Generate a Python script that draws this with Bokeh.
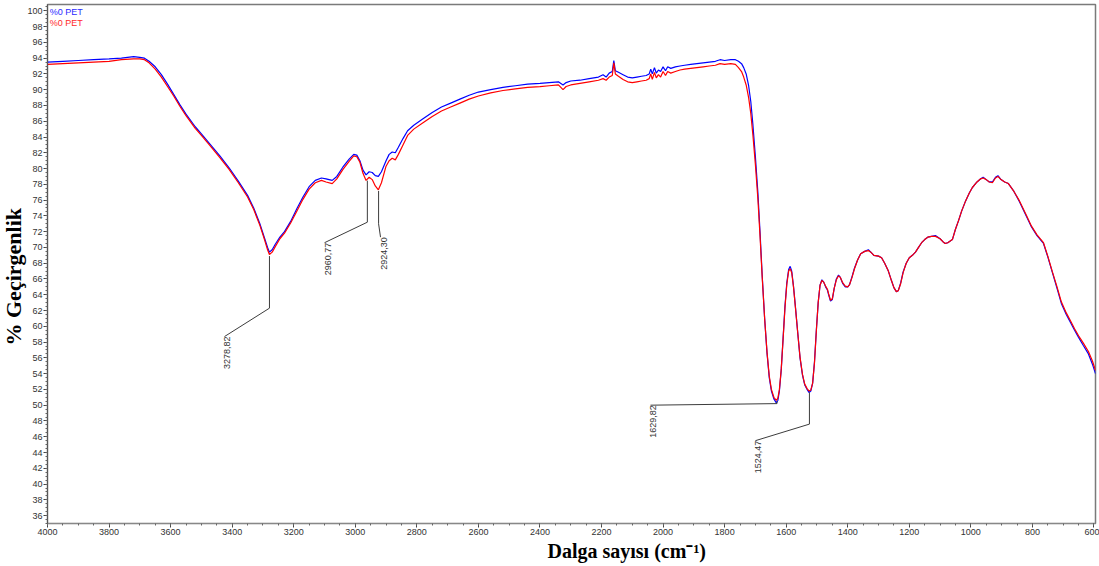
import numpy as np
from bokeh.plotting import figure
from bokeh.models import Range1d, SingleIntervalTicker, Label, Title
from bokeh.embed import file_html
from bokeh.resources import INLINE

# FTIR spectrum: wavenumber (cm^-1) and % transmittance for the two runs
WAVENUMBER = [
    4000, 3950, 3900, 3850, 3800, 3760, 3720, 3700, 3685,
    3670, 3650, 3630, 3610, 3590, 3570, 3550, 3520, 3500, 3470, 3440, 3410, 3380, 3350, 3330, 3310, 3295, 3285, 3279,
    3270, 3260, 3245, 3230, 3210, 3190, 3170, 3150, 3130, 3110, 3095, 3075, 3060, 3040, 3020, 3005, 2995, 2985, 2975, 2965, 2955, 2945, 2935, 2925,
    2915, 2900, 2890, 2880, 2870, 2860, 2845, 2830, 2810, 2780, 2750, 2720, 2690, 2660, 2630, 2600, 2560, 2520, 2480, 2440, 2400, 2370, 2340,
    2325, 2315, 2300, 2270, 2240, 2210, 2195, 2185, 2175, 2165, 2160, 2155, 2145, 2130, 2115, 2100, 2085, 2070, 2055, 2045, 2040, 2035, 2028, 2022, 2015, 2008, 2000,
    1992, 1985, 1975, 1960, 1945, 1930, 1910, 1890, 1870, 1850, 1830, 1815, 1800, 1780, 1765, 1755, 1745, 1738, 1730, 1722, 1715, 1708, 1700, 1692, 1685,
    1678, 1670, 1662, 1655, 1648, 1640, 1632, 1627, 1622, 1616, 1610, 1604, 1598, 1592, 1587, 1582, 1576, 1570, 1562, 1555, 1547, 1540, 1532, 1526, 1520,
    1514, 1508, 1502, 1496, 1490, 1484, 1478, 1472, 1466, 1462, 1456, 1450, 1444, 1437, 1430, 1424, 1416, 1408, 1400, 1394, 1386, 1378, 1368, 1358, 1345,
    1333, 1325, 1315, 1300, 1290, 1280, 1268, 1258, 1250, 1242, 1236, 1228, 1220, 1210, 1200,
    1190, 1180, 1170, 1160, 1150, 1140, 1128, 1115, 1100, 1090, 1083, 1075, 1060, 1050, 1040, 1030, 1017, 1005, 995, 980, 968, 960, 950, 940,
    930, 920, 912, 902, 890, 878, 860, 842, 820, 803, 785, 764, 750, 735, 720, 706, 690, 675, 663, 650, 635, 618, 605, 595,
]

PET_BLUE = [
    93.5, 93.6, 93.7, 93.8, 93.9, 94.0, 94.2, 94.1, 94.0,
    93.6, 92.9, 91.9, 90.7, 89.4, 88.1, 86.9, 85.3, 84.4, 83.0, 81.6, 80.1, 78.4, 76.6, 75.0, 73.0, 71.2, 70.0, 69.4,
    69.7, 70.4, 71.3, 72.0, 73.3, 74.9, 76.4, 77.7, 78.5, 78.8, 78.7, 78.5, 79.0, 80.2, 81.2, 81.8, 81.7, 81.0, 79.8, 79.2, 79.6, 79.5, 79.1, 79.0,
    79.6, 81.0, 81.8, 82.1, 82.0, 82.7, 83.8, 84.8, 85.5, 86.3, 87.1, 87.8, 88.3, 88.8, 89.3, 89.7, 90.0, 90.3, 90.5, 90.7, 90.8, 90.9, 91.0,
    90.6, 90.9, 91.1, 91.2, 91.4, 91.6, 91.9, 91.6, 92.1, 92.3, 93.7, 92.4, 92.2, 91.9, 91.6, 91.5, 91.6, 91.7, 91.8, 92.0, 92.6, 92.0, 92.8, 92.1, 92.5, 92.3, 92.9,
    92.4, 92.9, 92.7, 92.9, 93.0, 93.1, 93.2, 93.3, 93.4, 93.5, 93.6, 93.8, 93.7, 93.8, 93.8, 93.6, 93.3, 92.8, 92.0, 90.5, 88.5, 85.5, 81.5, 77.0, 72.0,
    66.5, 61.0, 56.5, 53.5, 51.8, 50.8, 50.3, 50.6, 51.8, 54.5, 58.5, 62.5, 65.5, 67.2, 67.6, 67.0, 65.0, 62.5, 59.0, 56.0, 53.8, 52.6, 52.0, 51.6, 51.8,
    52.8, 55.5, 59.5, 63.0, 65.2, 65.9, 65.6, 65.0, 64.6, 64.0, 63.2, 63.4, 64.8, 66.0, 66.5, 66.2, 65.4, 65.0, 65.0, 65.3, 66.3, 67.4, 68.4, 69.2, 69.5,
    69.7, 69.4, 69.0, 68.9, 68.7, 68.0, 67.0, 65.8, 64.9, 64.4, 64.5, 65.5, 66.9, 68.0, 68.7,
    69.0, 69.4, 70.0, 70.6, 71.0, 71.3, 71.4, 71.5, 71.1, 70.7, 70.5, 70.6, 71.0, 72.3, 73.4, 74.6, 75.9, 76.9, 77.6, 78.3, 78.7, 78.9, 78.6, 78.3,
    78.3, 78.9, 79.1, 78.6, 78.3, 78.1, 77.1, 75.8, 74.0, 72.6, 71.5, 70.5, 68.8, 66.8, 64.8, 62.9, 61.5, 60.4, 59.5, 58.6, 57.6, 56.5, 55.2, 54.0,
]

PET_RED = [
    93.2, 93.3, 93.4, 93.5, 93.6, 93.8, 93.9, 93.9, 93.8,
    93.4, 92.6, 91.6, 90.4, 89.2, 87.9, 86.7, 85.1, 84.2, 82.8, 81.4, 79.9, 78.2, 76.4, 74.8, 72.8, 71.0, 69.7, 69.1,
    69.4, 70.1, 71.1, 71.8, 73.1, 74.6, 76.1, 77.4, 78.2, 78.5, 78.3, 78.1, 78.7, 79.9, 80.9, 81.6, 81.5, 80.8, 79.4, 78.5, 78.9, 78.6, 77.8, 77.3,
    78.2, 80.3, 81.0, 81.3, 81.1, 81.8, 83.0, 84.2, 85.0, 85.8, 86.6, 87.3, 87.8, 88.3, 88.8, 89.2, 89.6, 89.9, 90.1, 90.3, 90.4, 90.5, 90.6,
    90.0, 90.4, 90.6, 90.8, 91.0, 91.2, 91.4, 91.2, 91.6, 91.8, 93.4, 92.0, 91.7, 91.3, 91.0, 90.9, 91.0, 91.1, 91.2, 91.4, 92.0, 91.3, 92.2, 91.5, 91.9, 91.6, 92.3,
    91.8, 92.3, 92.1, 92.3, 92.5, 92.6, 92.7, 92.8, 92.9, 93.0, 93.1, 93.3, 93.2, 93.3, 93.2, 92.8, 92.3, 91.6, 90.6, 89.0, 87.0, 84.2, 80.5, 76.2, 71.5,
    66.3, 61.0, 56.6, 53.7, 52.0, 51.0, 50.6, 50.9, 52.0, 54.6, 58.4, 62.3, 65.3, 67.0, 67.3, 66.8, 64.9, 62.4, 59.0, 56.1, 53.9, 52.7, 52.1, 51.8, 51.9,
    52.8, 55.4, 59.4, 63.0, 65.2, 65.8, 65.6, 65.1, 64.7, 64.1, 63.3, 63.5, 64.8, 65.9, 66.4, 66.2, 65.5, 65.1, 65.0, 65.3, 66.2, 67.3, 68.4, 69.2, 69.5,
    69.6, 69.4, 69.0, 68.9, 68.7, 68.0, 67.0, 65.8, 64.9, 64.4, 64.5, 65.4, 66.8, 68.0, 68.7,
    69.0, 69.4, 70.0, 70.6, 71.0, 71.3, 71.4, 71.4, 71.1, 70.7, 70.5, 70.6, 71.0, 72.3, 73.4, 74.6, 75.9, 76.9, 77.6, 78.3, 78.7, 78.8, 78.6, 78.3,
    78.2, 78.8, 79.0, 78.6, 78.3, 78.1, 77.1, 75.9, 74.1, 72.7, 71.6, 70.6, 68.9, 66.9, 65.0, 63.1, 61.7, 60.6, 59.7, 58.8, 57.9, 56.8, 55.6, 54.4,
]

SERIES_NAMES = ["%0 PET", "%0 PET"]

# Marked absorption bands
PEAK_WN = [3278.82, 2960.77, 2924.30, 1629.82, 1524.47]
PEAK_TEXT = ["3278,82", "2960,77", "2924,30", "1629,82", "1524,47"]

# Leader-line routing for each band label (knee height, then label end point)
LEADER_KNEE_T = [62.3, 73.2, 73.0, 50.2, 47.6]
LEADER_END_WN = [3425, 3100, 2918, 2041, 1700]
LEADER_END_T = [58.7, 70.6, 71.3, 50.0, 45.5]

assert len(WAVENUMBER) == len(PET_BLUE) == len(PET_RED)

wn = np.array(WAVENUMBER, dtype=float)
blue = np.array(PET_BLUE, dtype=float)
red = np.array(PET_RED, dtype=float)

p = figure(
    width=1099, height=566,
    output_backend="svg", toolbar_location=None,
    x_range=Range1d(4000, 595), y_range=Range1d(35, 100.8),
    min_border_left=0, min_border_right=4, min_border_top=4, min_border_bottom=43,
    background_fill_color="white", border_fill_color="white",
)
p.grid.visible = False
p.outline_line_color = "#7a7a7a"
p.outline_line_width = 1.5

p.xaxis.ticker = SingleIntervalTicker(interval=200, num_minor_ticks=4)
p.yaxis.ticker = SingleIntervalTicker(interval=2, num_minor_ticks=4)
for ax in (p.xaxis, p.yaxis):
    ax.major_label_text_font = "Liberation Sans"
    ax.major_label_text_font_size = "9px"
    ax.major_label_text_color = "#333333"
    ax.major_tick_in = 0
    ax.major_tick_out = 4
    ax.minor_tick_in = 0
    ax.minor_tick_out = 2
    ax.major_tick_line_color = "#444444"
    ax.minor_tick_line_color = "#666666"
    ax.major_label_standoff = 1
p.xaxis.axis_line_color = "#888888"
p.yaxis.axis_line_color = "#555555"

# Spectra
p.line(wn, blue, line_color="#0000ff", line_width=1.2)
p.line(wn, red, line_color="#ff0000", line_width=1.2)

# Band leader lines and rotated labels
wn_inc = wn[::-1]
red_inc = red[::-1]
xs, ys = [], []
for pk, knee_t, end_wn, end_t, txt in zip(PEAK_WN, LEADER_KNEE_T, LEADER_END_WN, LEADER_END_T, PEAK_TEXT):
    start_t = float(np.interp(pk, wn_inc, red_inc)) - 0.2
    xs.append([pk, pk, end_wn])
    ys.append([start_t, knee_t, end_t])
    p.add_layout(Label(
        x=end_wn, y=end_t, text=txt, angle=np.pi / 2,
        text_align="right", text_baseline="top",
        text_font="Liberation Sans", text_font_size="9px", text_color="#333333",
    ))
p.multi_line(xs, ys, line_color="#3c3c3c", line_width=1)

# Series names in the upper-left corner
for name, color, ty in zip(SERIES_NAMES, ["#2a2aff", "#ff2a2a"], [99.9, 98.4]):
    p.add_layout(Label(
        x=3993, y=ty, text=name, text_align="left", text_baseline="middle",
        text_font="Liberation Sans", text_font_size="9px", text_color=color,
    ))

# Axis titles
p.add_layout(Title(
    text="Dalga sayısı (cm⁻¹)", align="left", offset=500, standoff=0,
    text_font="Liberation Serif", text_font_style="bold", text_font_size="20px", text_color="#000000",
), "below")
p.add_layout(Title(
    text="% Geçirgenlik", align="left", offset=178, standoff=-3,
    text_font="Liberation Serif", text_font_style="bold", text_font_size="22px", text_color="#000000",
), "left")

open("out.html", "w").write(file_html(p, INLINE))
